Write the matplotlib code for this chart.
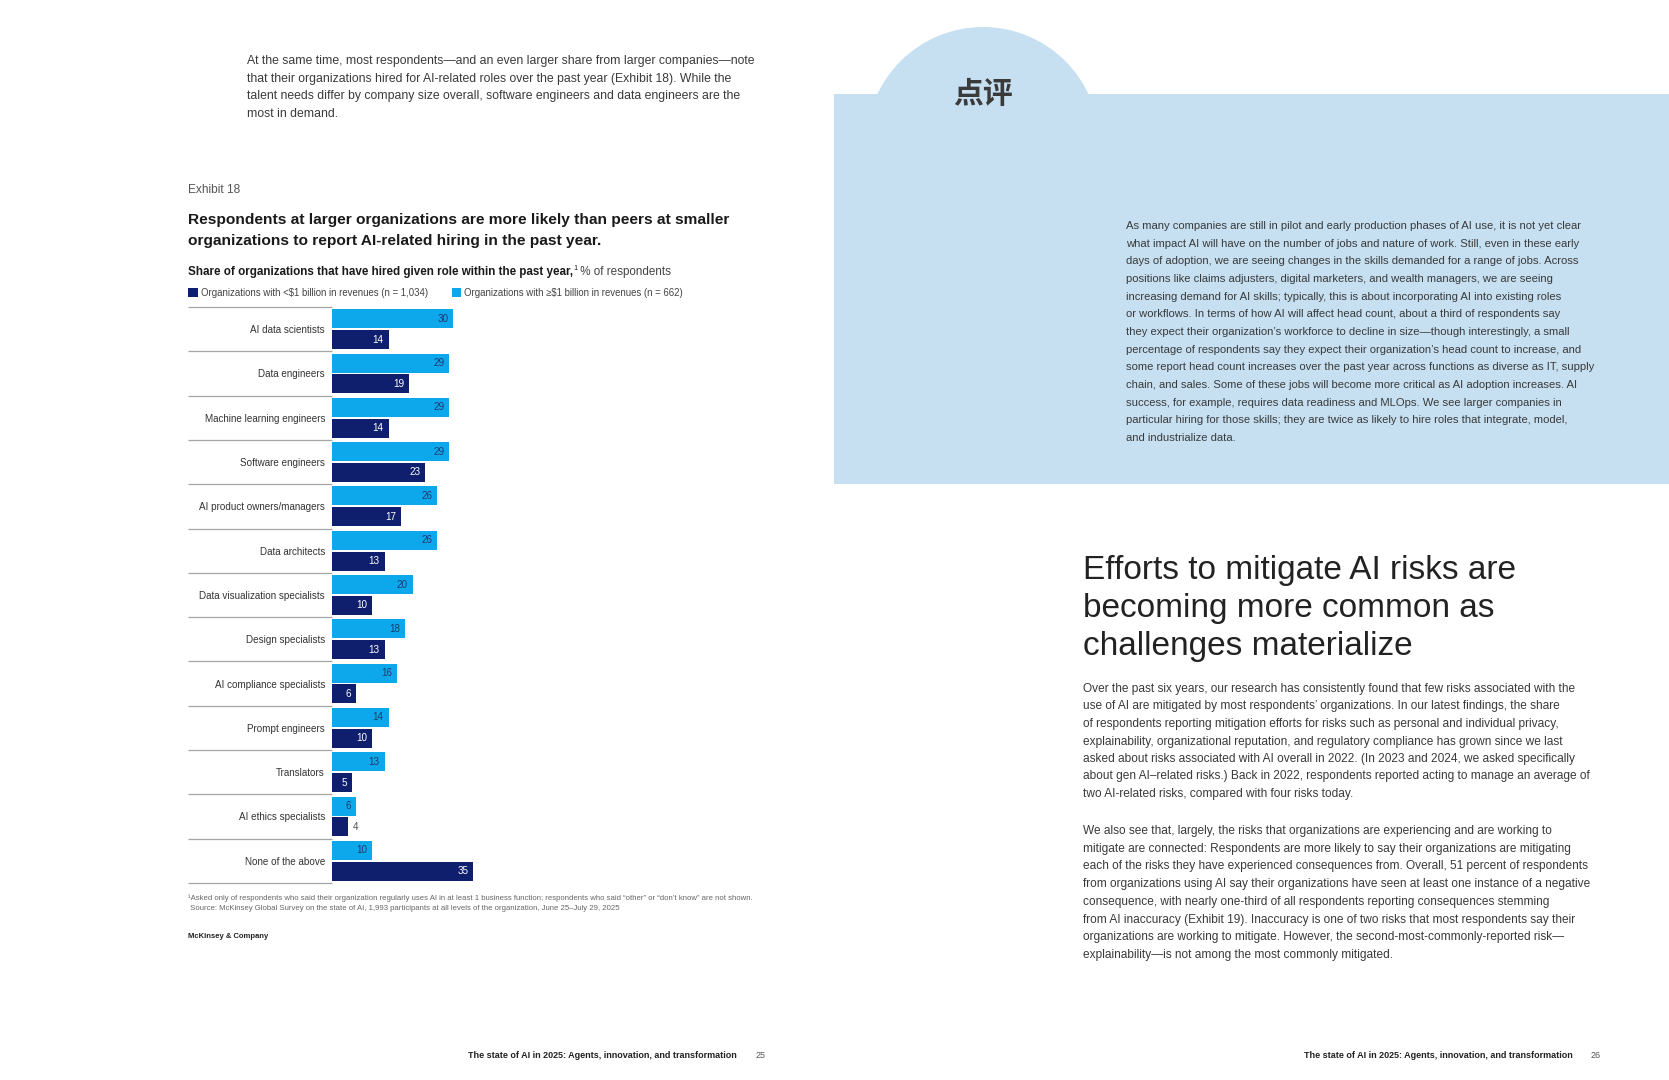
import matplotlib
matplotlib.use('Agg')
import matplotlib.pyplot as plt
import numpy as np
from matplotlib.patches import Rectangle, Circle
from matplotlib.transforms import blended_transform_factory

plt.rcParams['font.family'] = ['Liberation Sans', 'Noto Sans CJK SC', 'DejaVu Sans']

# ---------------- data ----------------
categories = ["AI data scientists", "Data engineers", "Machine learning engineers",
              "Software engineers", "AI product owners/managers", "Data architects",
              "Data visualization specialists", "Design specialists",
              "AI compliance specialists", "Prompt engineers", "Translators",
              "AI ethics specialists", "None of the above"]
large_orgs = [30, 29, 29, 29, 26, 26, 20, 18, 16, 14, 13, 6, 10]   # >= $1 billion
small_orgs = [14, 19, 14, 23, 17, 13, 10, 13, 6, 10, 5, 4, 35]     # < $1 billion
legend_labels = ["Organizations with <$1 billion in revenues (n = 1,034)",
                 "Organizations with \u2265$1 billion in revenues (n = 662)"]

top_para = [
    "At the same time, most respondents\u2014and an even larger share from larger companies\u2014note",
    "that their organizations hired for AI-related roles over the past year (Exhibit 18). While the",
    "talent needs differ by company size overall, software engineers and data engineers are the",
    "most in demand.",
]
title_lines = ["Respondents at larger organizations are more likely than peers at smaller",
               "organizations to report AI-related hiring in the past year."]
panel_lines = [
    "As many companies are still in pilot and early production phases of AI use, it is not yet clear",
    "what impact AI will have on the number of jobs and nature of work. Still, even in these early",
    "days of adoption, we are seeing changes in the skills demanded for a range of jobs. Across",
    "positions like claims adjusters, digital marketers, and wealth managers, we are seeing",
    "increasing demand for AI skills; typically, this is about incorporating AI into existing roles",
    "or workflows. In terms of how AI will affect head count, about a third of respondents say",
    "they expect their organization\u2019s workforce to decline in size\u2014though interestingly, a small",
    "percentage of respondents say they expect their organization\u2019s head count to increase, and",
    "some report head count increases over the past year across functions as diverse as IT, supply",
    "chain, and sales. Some of these jobs will become more critical as AI adoption increases. AI",
    "success, for example, requires data readiness and MLOps. We see larger companies in",
    "particular hiring for those skills; they are twice as likely to hire roles that integrate, model,",
    "and industrialize data.",
]
heading_lines = ["Efforts to mitigate AI risks are", "becoming more common as",
                 "challenges materialize"]
body1 = [
    "Over the past six years, our research has consistently found that few risks associated with the",
    "use of AI are mitigated by most respondents\u2019 organizations. In our latest findings, the share",
    "of respondents reporting mitigation efforts for risks such as personal and individual privacy,",
    "explainability, organizational reputation, and regulatory compliance has grown since we last",
    "asked about risks associated with AI overall in 2022. (In 2023 and 2024, we asked specifically",
    "about gen AI\u2013related risks.) Back in 2022, respondents reported acting to manage an average of",
    "two AI-related risks, compared with four risks today.",
]
body2 = [
    "We also see that, largely, the risks that organizations are experiencing and are working to",
    "mitigate are connected: Respondents are more likely to say their organizations are mitigating",
    "each of the risks they have experienced consequences from. Overall, 51 percent of respondents",
    "from organizations using AI say their organizations have seen at least one instance of a negative",
    "consequence, with nearly one-third of all respondents reporting consequences stemming",
    "from AI inaccuracy (Exhibit 19). Inaccuracy is one of two risks that most respondents say their",
    "organizations are working to mitigate. However, the second-most-commonly-reported risk\u2014",
    "explainability\u2014is not among the most commonly mitigated.",
]
footnote_lines = [
    "\u00b9Asked only of respondents who said their organization regularly uses AI in at least 1 business function; respondents who said \u201cother\u201d or \u201cdon\u2019t know\u201d are not shown.",
    " Source: McKinsey Global Survey on the state of AI, 1,993 participants at all levels of the organization, June 25\u2013July 29, 2025",
]
footer_text = "The state of AI in 2025: Agents, innovation, and transformation"

# ---------------- style ----------------
LIGHT = '#0DA8EC'
DARK = '#0F1F6E'
PANEL = '#C6E0F2'
TXT = '#3a3a3a'

W, H = 1669, 1080
fig = plt.figure(figsize=(W / 100, H / 100), dpi=100)
fig.patch.set_facecolor('white')
bg = fig.add_axes([0, 0, 1, 1], zorder=0)
bg.set_xlim(0, W)
bg.set_ylim(H, 0)
bg.axis('off')

# right-page panel with dome
bg.add_patch(Rectangle((834, 94), W - 834, 484 - 94, color=PANEL, lw=0))
bg.add_patch(Circle((983, 143.6), 116.6, color=PANEL, lw=0))
bg.text(983, 94, "点评", fontsize=21.5, fontweight='bold', color='#3a3a3a',
        ha='center', va='center', family=['Noto Sans CJK SC', 'DejaVu Sans'])

renderer = fig.canvas.get_renderer()


def seq(x, y, parts):
    for text, kw in parts:
        dy = kw.pop('dy', 0)
        t = bg.text(x, y + dy, text, va='center', ha='left', **kw)
        x += t.get_window_extent(renderer=renderer).width


# top paragraph
for i, line in enumerate(top_para):
    bg.text(247, 61 + i * 17.7, line, fontsize=8.8, color=TXT, va='center')

bg.text(188, 190, "Exhibit 18", fontsize=8.6, color='#555555', va='center')
for i, line in enumerate(title_lines):
    bg.text(188, 220 + i * 20.5, line, fontsize=11.15, fontweight='bold',
            color='#1a1a1a', va='center')

seq(188, 272, [("Share of organizations that have hired given role within the past year,",
                dict(fontsize=8.35, fontweight='bold', color='#1a1a1a')),
               ("1", dict(fontsize=5.2, color='#1a1a1a', dy=-3.5)),
               (" % of respondents", dict(fontsize=8.35, color='#444444'))])

# ---------------- bar chart ----------------
n = len(categories)
y = np.arange(n)
row_px = 44.3
ax_w_px = 161.6
ax = fig.add_axes([332 / W, 1 - (307 + n * row_px) / H, ax_w_px / W, n * row_px / H], zorder=2)
ax.patch.set_alpha(0)
off, bh = 0.235, 0.43
b_light = ax.barh(y - off, large_orgs, height=bh, color=LIGHT, lw=0)
b_dark = ax.barh(y + off, small_orgs, height=bh, color=DARK, lw=0)
ax.set_ylim(n - 0.5, -0.5)
ax.set_xlim(0, 40)
for s in ax.spines.values():
    s.set_visible(False)
ax.set_xticks([])
ax.set_yticks(y, categories)
ax.tick_params(axis='y', length=0, pad=5, labelsize=7.15, labelcolor='#333333')

for yi, v in zip(y, large_orgs):
    ax.annotate(str(v), xy=(v, yi - off), xytext=(-3.5, 0), textcoords='offset points',
                ha='right', va='center', fontsize=7.1, color='#1c3a6e')
for yi, v in zip(y, small_orgs):
    if v <= 4:
        ax.annotate(str(v), xy=(v, yi + off), xytext=(3, 0), textcoords='offset points',
                    ha='left', va='center', fontsize=7.1, color='#555555')
    else:
        ax.annotate(str(v), xy=(v, yi + off), xytext=(-3.5, 0), textcoords='offset points',
                    ha='right', va='center', fontsize=7.1, color='white')

blend = blended_transform_factory(ax.transAxes, ax.transData)
ax.hlines(np.arange(n + 1) - 0.5, -(332 - 188) / ax_w_px, 0, transform=blend,
          colors='#a5a5a5', lw=0.9, clip_on=False)

leg = ax.legend([b_dark, b_light], legend_labels, loc='center left',
                bbox_to_anchor=(188 / W, 1 - 293 / H), bbox_transform=fig.transFigure,
                ncol=2, frameon=False, fontsize=6.95, handlelength=1.0, handleheight=1.0,
                handletextpad=0.3, columnspacing=2.5, borderpad=0, borderaxespad=0,
                labelcolor='#444444')

# footnote and source
for i, line in enumerate(footnote_lines):
    bg.text(188, 898 + i * 10.5, line, fontsize=5.55, color='#666666', va='center')
bg.text(188, 937, "McKinsey & Company", fontsize=5.5, fontweight='bold', color='#222222',
        va='center')

# ---------------- right page ----------------
for i, line in enumerate(panel_lines):
    bg.text(1126, 226 + i * 17.67, line, fontsize=8.1, color=TXT, va='center')

for i, line in enumerate(heading_lines):
    bg.text(1083, 571 + i * 38.0, line, fontsize=24.0, color='#222222', va='center')

for i, line in enumerate(body1):
    bg.text(1083, 689 + i * 17.5, line, fontsize=8.6, color=TXT, va='center')
for i, line in enumerate(body2):
    bg.text(1083, 831 + i * 17.7, line, fontsize=8.6, color=TXT, va='center')

# footers
bg.text(468, 1055, footer_text, fontsize=6.5, fontweight='bold', color='#222222', va='center')
bg.text(756, 1055, "25", fontsize=6.5, color='#555555', va='center')
bg.text(1304, 1055, footer_text, fontsize=6.5, fontweight='bold', color='#222222', va='center')
bg.text(1591, 1055, "26", fontsize=6.5, color='#555555', va='center')

fig.savefig('out.png', dpi=100, facecolor='white')
